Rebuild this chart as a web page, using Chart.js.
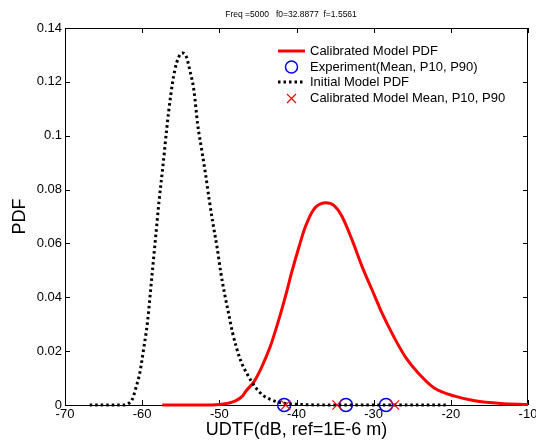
<!DOCTYPE html>
<html>
<head>
<meta charset="utf-8">
<script src="https://cdn.jsdelivr.net/npm/chart.js@4.4.0/dist/chart.umd.min.js"></script>
<style>
  body { margin: 0; background: #fff; }
  #wrap { width: 536px; height: 444px; }
</style>
</head>
<body>
<div id="wrap"><canvas id="myChart" width="536" height="444"></canvas></div>
<script>
// values
const calX = [-57.4, -52, -50, -49, -48, -47, -46.6, -45.5, -44.5, -43.4, -42.3, -41.4, -40.6, -39.7, -38.9, -37.8, -36.25, -35.2, -34.1, -32.8, -31.5, -30.2, -28.9, -27.4, -25.9, -24.2, -22.1, -19.5, -16.9, -13.5, -10];
const calY = [0, 0, 0.0002, 0.0006, 0.0014, 0.0033, 0.005, 0.0087, 0.0142, 0.0217, 0.0316, 0.0407, 0.0495, 0.0585, 0.0658, 0.0725, 0.0751, 0.0742, 0.070, 0.0613, 0.0514, 0.0427, 0.034, 0.0254, 0.0179, 0.0118, 0.0062, 0.0033, 0.0016, 0.0006, 0.0002];

const initX = [-66.8, -64, -62.3, -61.8, -61.3, -60.8, -60.3, -59.8, -59.3, -58.8, -58.3, -57.8, -57.3, -56.8, -56.3, -55.8, -55.3, -54.8, -54.3, -53.8, -53.3, -52.8, -52.3, -51.8, -51.3, -50.8, -50.3, -49.8, -49.3, -48.8, -48.3, -47.3, -46.3, -45.3, -44.3, -43.3, -42.3, -40.3, -35, -20.6];
const initY = [0, 0, 0, 0.0005, 0.002, 0.0065, 0.012, 0.021, 0.031, 0.046, 0.061, 0.076, 0.089, 0.103, 0.115, 0.124, 0.129, 0.1307, 0.1295, 0.124, 0.117, 0.104, 0.095, 0.086, 0.076, 0.067, 0.0587, 0.049, 0.041, 0.034, 0.027, 0.017, 0.011, 0.0065, 0.0035, 0.002, 0.001, 0.0003, 0, 0];

const expX = [-41.6, -33.6, -28.4];     // Experiment mean, P10, P90
const calMarkX = [-41.4, -34.75, -27.3]; // calibrated mean, P10, P90

const xTicks = [-70, -60, -50, -40, -30, -20, -10];
const yTicks = [0, 0.02, 0.04, 0.06, 0.08, 0.1, 0.12, 0.14];

const titleText = 'Freq =5000   f0=32.8877  f=1.5561';
const legendLabels = ['Calibrated Model PDF', 'Experiment(Mean, P10, P90)', 'Initial Model PDF', 'Calibrated Model Mean, P10, P90'];

function pts(xs, ys) {
    return xs.map(function(x, i) { return {x: x, y: ys[i]}; });
}

const FONT = 'Liberation Sans, Arial, Helvetica, sans-serif';

// box with inner ticks on all sides, like matlab
const frame = {
    id: 'frame',
    beforeDatasetsDraw(chart) {
        const {ctx, chartArea: a, scales: {x, y}} = chart;
        ctx.save();
        ctx.strokeStyle = '#000';
        ctx.lineWidth = 1;
        ctx.strokeRect(a.left + 0.5, a.top + 0.5, a.right - a.left - 1, a.bottom - a.top);
        ctx.beginPath();
        xTicks.forEach(function(v) {
            let px = Math.round(x.getPixelForValue(v)) + 0.5;
            ctx.moveTo(px, a.bottom); ctx.lineTo(px, a.bottom - 5);
            ctx.moveTo(px, a.top); ctx.lineTo(px, a.top + 5);
        });
        yTicks.forEach(function(v) {
            let py = Math.round(y.getPixelForValue(v)) + 0.5;
            ctx.moveTo(a.left, py); ctx.lineTo(a.left + 5, py);
            ctx.moveTo(a.right, py); ctx.lineTo(a.right - 5, py);
        });
        ctx.stroke();
        ctx.restore();
    },
    afterDraw(chart) {
        const {ctx, chartArea: a} = chart;
        ctx.save();
        // title
        ctx.fillStyle = '#000';
        ctx.font = '8.5px ' + FONT;
        ctx.textAlign = 'center';
        ctx.textBaseline = 'middle';
        ctx.fillText(titleText, 291, 15);

        // legend
        const rows = [51, 67, 82, 98.5];
        const x0 = 278, x1 = 305, xm = 291.5;
        ctx.font = '13px ' + FONT;
        ctx.textAlign = 'left';
        legendLabels.forEach(function(t, i) {
            ctx.fillStyle = '#000';
            ctx.fillText(t, 310, rows[i]);
        });
        ctx.lineCap = 'butt';
        ctx.strokeStyle = '#ff0000'; ctx.lineWidth = 3;
        ctx.beginPath(); ctx.moveTo(x0, rows[0]); ctx.lineTo(x1, rows[0]); ctx.stroke();
        ctx.strokeStyle = '#0000ff'; ctx.lineWidth = 1.5;
        ctx.beginPath(); ctx.arc(xm, rows[1], 6, 0, Math.PI * 2); ctx.stroke();
        ctx.strokeStyle = '#000'; ctx.lineWidth = 3;
        ctx.setLineDash([2.5, 3]);
        ctx.beginPath(); ctx.moveTo(x0, rows[2]); ctx.lineTo(x1, rows[2]); ctx.stroke();
        ctx.setLineDash([]);
        ctx.strokeStyle = '#ff0000'; ctx.lineWidth = 1.2;
        ctx.beginPath();
        ctx.moveTo(xm - 4.5, rows[3] - 4.5); ctx.lineTo(xm + 4.5, rows[3] + 4.5);
        ctx.moveTo(xm + 4.5, rows[3] - 4.5); ctx.lineTo(xm - 4.5, rows[3] + 4.5);
        ctx.stroke();
        ctx.restore();
    }
};

let ctx = document.getElementById('myChart').getContext('2d');
let myChart = new Chart(ctx, {
    type: 'scatter',
    data: {
        datasets: [{
            label: legendLabels[0],
            data: pts(calX, calY),
            showLine: true,
            borderColor: '#ff0000',
            borderWidth: 3,
            pointRadius: 0,
            cubicInterpolationMode: 'monotone',
            clip: 4,
            order: 4
        }, {
            label: legendLabels[1],
            data: expX.map(function(v) { return {x: v, y: 0}; }),
            showLine: false,
            pointStyle: 'circle',
            pointRadius: 6.5,
            borderColor: '#0000ff',
            backgroundColor: 'rgba(0,0,0,0)',
            borderWidth: 1.5,
            clip: false,
            order: 3
        }, {
            label: legendLabels[2],
            data: pts(initX, initY),
            showLine: true,
            borderColor: '#000',
            borderWidth: 3,
            borderDash: [2.5, 3],
            pointRadius: 0,
            cubicInterpolationMode: 'monotone',
            clip: 4,
            order: 2
        }, {
            label: legendLabels[3],
            data: calMarkX.map(function(v) { return {x: v, y: 0}; }),
            showLine: false,
            pointStyle: 'crossRot',
            pointRadius: 6.5,
            borderColor: '#ff0000',
            borderWidth: 1.2,
            clip: false,
            order: 1
        }]
    },
    options: {
        responsive: false,
        animation: false,
        layout: { padding: { top: 28, right: 6, left: 0, bottom: 0 } },
        plugins: {
            legend: { display: false },
            tooltip: { enabled: false }
        },
        scales: {
            x: {
                type: 'linear',
                min: -70,
                max: -10,
                afterBuildTicks: function(s) { s.ticks = xTicks.map(function(v) { return {value: v}; }); },
                afterFit: function(s) { s.height = 39; s.paddingLeft = 0; s.paddingRight = 0; },
                grid: { display: false, drawTicks: false },
                border: { display: false },
                ticks: { color: '#000', padding: 2, maxRotation: 0, font: { family: FONT, size: 13 } },
                title: { display: true, text: 'UDTF(dB, ref=1E-6 m)', color: '#000', padding: { bottom: 3, top: 0 }, font: { family: FONT, size: 18 } }
            },
            y: {
                min: 0,
                max: 0.14,
                afterBuildTicks: function(s) { s.ticks = yTicks.map(function(v) { return {value: v}; }); },
                afterFit: function(s) { s.width = 65; },
                grid: { display: false, drawTicks: false },
                border: { display: false },
                ticks: {
                    color: '#000', padding: 3, font: { family: FONT, size: 13 },
                    callback: function(v) { return String(parseFloat(v.toFixed(2))); }
                },
                title: { display: true, text: 'PDF', color: '#000', padding: { top: 9, bottom: 0 }, font: { family: FONT, size: 18 } }
            }
        }
    },
    plugins: [frame]
});
</script>
</body>
</html>
